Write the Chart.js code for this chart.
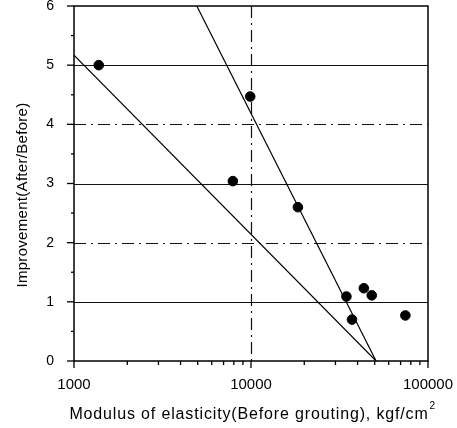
<!DOCTYPE html>
<html>
<head>
<meta charset="utf-8">
<script src="https://cdn.jsdelivr.net/npm/chart.js@4"></script>
<style>
  html, body { margin: 0; padding: 0; background: #fff; overflow: hidden; }
  #wrap { width: 457px; height: 428px; position: relative; }
</style>
</head>
<body>
<div id="wrap"><canvas id="chart"></canvas></div>
<script>
// measured points: modulus of elasticity (kgf/cm2) vs improvement ratio
const modulus = [1380, 9900, 7900, 18400, 34600, 43400, 48100, 37200, 74500];
const improvement = [5.0, 4.47, 3.04, 2.6, 1.09, 1.23, 1.11, 0.7, 0.77];

// fitted lines (end points)
const lineAx = [1000, 50900];
const lineAy = [5.17, 0];
const lineBx = [4940, 50900];
const lineBy = [6, 0];

const xMajor = [1000, 10000, 100000];
const yTicks = [0, 1, 2, 3, 4, 5, 6];

const FONT = "'Liberation Sans', Arial, sans-serif";

function pts(xs, ys) {
    return xs.map((x, i) => ({ x: x, y: ys[i] }));
}

/* grid, box, tick marks and titles */
const decor = {
    id: "decor",
    beforeDatasetsDraw(chart) {
        const { ctx, chartArea: a, scales: { x, y } } = chart;
        ctx.save();
        ctx.strokeStyle = "#111";
        // horizontal grid
        for (let v = 1; v <= 5; v++) {
            const py = Math.round(y.getPixelForValue(v)) + 0.5;
            ctx.lineWidth = 1.2;
            ctx.setLineDash(v % 2 === 0 ? [12, 5, 2, 5] : []);
            ctx.beginPath();
            ctx.moveTo(a.left, py);
            ctx.lineTo(a.right, py);
            ctx.stroke();
        }
        // vertical grid at 10000
        const px = Math.round(x.getPixelForValue(10000)) + 0.5;
        ctx.setLineDash([12, 5, 2, 5]);
        ctx.beginPath();
        ctx.moveTo(px, a.top);
        ctx.lineTo(px, a.bottom);
        ctx.stroke();
        ctx.restore();
    },
    afterDraw(chart) {
        const { ctx, chartArea: a, scales: { x, y } } = chart;
        ctx.save();
        ctx.strokeStyle = "#000";
        ctx.lineWidth = 1.5;
        ctx.strokeRect(a.left, a.top, a.right - a.left, a.bottom - a.top);

        // x tick marks (log decades + minors)
        ctx.lineWidth = 1.3;
        for (let d = 1000; d <= 100000; d *= 10) {
            for (let m = 1; m <= 9; m++) {
                const v = d * m;
                if (v > 100000) break;
                const px = x.getPixelForValue(v);
                const len = m === 1 ? 7 : 4;
                ctx.beginPath();
                ctx.moveTo(px, a.bottom);
                ctx.lineTo(px, a.bottom + len);
                ctx.stroke();
            }
        }
        // y tick marks
        for (let v = 0; v <= 6; v += 0.5) {
            const py = y.getPixelForValue(v);
            const len = Number.isInteger(v) ? 7 : 3;
            ctx.beginPath();
            ctx.moveTo(a.left - len, py);
            ctx.lineTo(a.left, py);
            ctx.stroke();
        }

        // axis titles
        ctx.fillStyle = "#000";
        ctx.font = "16px " + FONT;
        ctx.textBaseline = "alphabetic";
        const xt = "Modulus of elasticity(Before grouting), kgf/cm";
        ctx.letterSpacing = "0.85px";
        const w = ctx.measureText(xt).width;
        const cx = (a.left + a.right) / 2 - 2;
        ctx.textAlign = "left";
        ctx.fillText(xt, cx - w / 2, 419);
        ctx.font = "10px " + FONT;
        ctx.letterSpacing = "0px";
        ctx.fillText("2", cx + w / 2 + 1, 409);

        ctx.font = "15px " + FONT;
        ctx.letterSpacing = "0.3px";
        ctx.translate(27, 195);
        ctx.rotate(-Math.PI / 2);
        ctx.textAlign = "center";
        ctx.fillText("Improvement(After/Before)", 0, 0);
        ctx.restore();
    }
};

new Chart(document.getElementById("chart"), {
    type: "scatter",
    data: {
        datasets: [
            {
                label: "measured",
                data: pts(modulus, improvement),
                backgroundColor: "#000",
                borderColor: "#000",
                pointRadius: 4.8,
                pointHoverRadius: 4.8
            },
            {
                label: "fit A",
                type: "line",
                data: pts(lineAx, lineAy),
                borderColor: "#000",
                borderWidth: 1.2,
                pointRadius: 0,
                fill: false
            },
            {
                label: "fit B",
                type: "line",
                data: pts(lineBx, lineBy),
                borderColor: "#000",
                borderWidth: 1.2,
                pointRadius: 0,
                fill: false
            }
        ]
    },
    options: {
        responsive: true,
        maintainAspectRatio: false,
        animation: false,
        layout: { padding: { top: 6, right: 29, left: 0, bottom: 0 } },
        plugins: {
            legend: { display: false },
            tooltip: { enabled: false }
        },
        scales: {
            x: {
                type: "logarithmic",
                min: 1000,
                max: 100000,
                grid: { display: false },
                border: { display: false },
                afterBuildTicks(scale) {
                    scale.ticks = xMajor.map(v => ({ value: v }));
                },
                ticks: {
                    autoSkip: false,
                    maxRotation: 0,
                    color: "#000",
                    padding: 7,
                    font: { family: FONT, size: 15 },
                    callback: v => String(v)
                },
                afterFit(scale) {
                    scale.height = 67;
                    scale.paddingLeft = 0;
                    scale.paddingRight = 0;
                }
            },
            y: {
                min: 0,
                max: 6,
                grid: { display: false },
                border: { display: false },
                afterBuildTicks(scale) {
                    scale.ticks = yTicks.map(v => ({ value: v }));
                },
                ticks: {
                    color: "#000",
                    padding: 12,
                    font: { family: FONT, size: 14 },
                    callback: v => String(v)
                },
                afterFit(scale) {
                    scale.width = 74;
                    scale.paddingTop = 0;
                    scale.paddingBottom = 0;
                }
            }
        }
    },
    plugins: [decor]
});
</script>
</body>
</html>
